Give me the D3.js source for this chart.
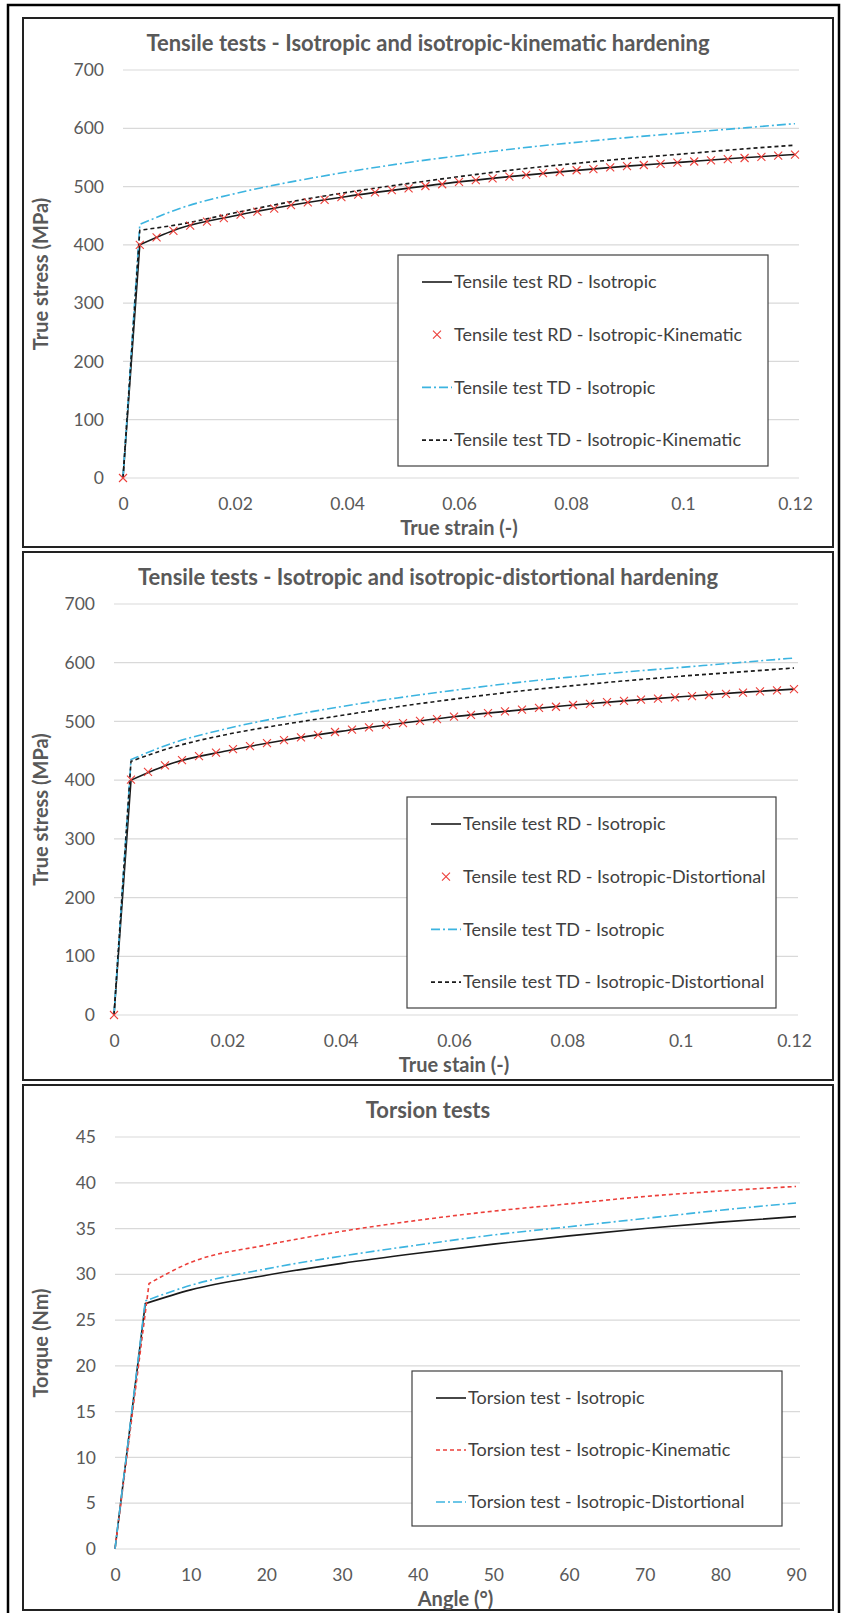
<!DOCTYPE html>
<html><head><meta charset="utf-8">
<script src="https://cdn.jsdelivr.net/npm/d3@7"></script>
<style>
body{margin:0;background:#fff}
svg{display:block}
text{font-family:Lato,"Open Sans","DejaVu Sans",sans-serif}
</style>
</head><body>
<svg id="c" width="841" height="1613"></svg>
<script>
// ---------- DATA ----------
const titles = [
  "Tensile tests - Isotropic and isotropic-kinematic hardening",
  "Tensile tests - Isotropic and isotropic-distortional hardening",
  "Torsion tests"
];
const xTitles = ["True strain (-)", "True stain (-)", "Angle (°)"];
const yTitles = ["True stress (MPa)", "True stress (MPa)", "Torque (Nm)"];

const strainTicks = [0, 0.02, 0.04, 0.06, 0.08, 0.1, 0.12];
const stressTicks = [0, 100, 200, 300, 400, 500, 600, 700];
const angleTicks = [0, 10, 20, 30, 40, 50, 60, 70, 80, 90];
const torqueTicks = [0, 5, 10, 15, 20, 25, 30, 35, 40, 45];

// tensile curves (strain, MPa)
const strainGrid = [0, 0.003, 0.01, 0.02, 0.03, 0.04, 0.05, 0.06, 0.07, 0.08, 0.09, 0.10, 0.11, 0.12];
const rdIsotropic = [0, 400, 428, 450, 468, 483, 496, 508, 518, 527, 535, 542, 549, 555];
const tdIsotropic = [0, 435, 462, 488, 508, 525, 540, 553, 565, 575, 584, 592, 600, 608];
const tdIsoKinematic = [0, 425, 435, 455, 474, 490, 504, 517, 529, 539, 548, 556, 564, 571];
const tdIsoDistortional = [0, 432, 455, 478, 495, 510, 525, 538, 550, 560, 569, 577, 584, 591];

// marker series (red crosses)
const rdKinStrain = [0, 0.003, 0.006, 0.009, 0.012, 0.015, 0.018, 0.021, 0.024, 0.027, 0.030, 0.033, 0.036, 0.039, 0.042, 0.045, 0.048, 0.051, 0.054, 0.057, 0.060, 0.063, 0.066, 0.069, 0.072, 0.075, 0.078, 0.081, 0.084, 0.087, 0.090, 0.093, 0.096, 0.099, 0.102, 0.105, 0.108, 0.111, 0.114, 0.117, 0.120];
const rdKinStress = [0, 400, 413, 424, 433, 440, 446, 452, 457, 462, 468, 473, 477, 482, 486, 490, 494, 497, 501, 504, 508, 511, 514, 517, 520, 523, 525, 528, 530, 533, 535, 537, 539, 541, 543, 545, 547, 549, 551, 553, 555];
const rdDistStrain = [0, 0.003, 0.006, 0.009, 0.012, 0.015, 0.018, 0.021, 0.024, 0.027, 0.030, 0.033, 0.036, 0.039, 0.042, 0.045, 0.048, 0.051, 0.054, 0.057, 0.060, 0.063, 0.066, 0.069, 0.072, 0.075, 0.078, 0.081, 0.084, 0.087, 0.090, 0.093, 0.096, 0.099, 0.102, 0.105, 0.108, 0.111, 0.114, 0.117, 0.120];
const rdDistStress = [0, 401, 414, 425, 434, 441, 447, 453, 458, 463, 468, 473, 477, 482, 486, 490, 494, 497, 501, 504, 508, 511, 514, 517, 520, 523, 525, 528, 530, 533, 535, 537, 539, 541, 543, 545, 547, 549, 551, 553, 555];

// torsion curves (degrees, Nm)
const angleGrid = [0, 4, 10, 20, 30, 40, 50, 60, 70, 80, 90];
const angleGridKin = [0, 4.5, 10, 20, 30, 40, 50, 60, 70, 80, 90];
const torsionIsotropic = [0, 26.8, 28.3, 29.9, 31.2, 32.3, 33.3, 34.2, 35.0, 35.7, 36.3];
const torsionKinematic = [0, 29.0, 31.3, 33.2, 34.7, 35.9, 36.9, 37.7, 38.5, 39.1, 39.6];
const torsionDistortional = [0, 27.1, 28.8, 30.6, 32.0, 33.2, 34.3, 35.2, 36.1, 37.0, 37.8];

const legend1 = ["Tensile test RD - Isotropic", "Tensile test RD - Isotropic-Kinematic", "Tensile test TD - Isotropic", "Tensile test TD - Isotropic-Kinematic"];
const legend2 = ["Tensile test RD - Isotropic", "Tensile test RD - Isotropic-Distortional", "Tensile test TD - Isotropic", "Tensile test TD - Isotropic-Distortional"];
const legend3 = ["Torsion test - Isotropic", "Torsion test - Isotropic-Kinematic", "Torsion test - Isotropic-Distortional"];

// ---------- STYLES ----------
const BLACK = "#1a1a1a", RED = "#ec3f3a", CYAN = "#3cb4e0";
const styles = {
  solid: {stroke: BLACK, dash: null},
  cross: {stroke: RED, marker: true},
  dashdot: {stroke: CYAN, dash: "9,3,2,3"},
  dashed: {stroke: BLACK, dash: "4,3"},
  reddash: {stroke: RED, dash: "4,3"}
};

const svg = d3.select("#c");
svg.append("rect").attr("x", 8).attr("y", 5).attr("width", 831).attr("height", 1612)
  .attr("fill", "none").attr("stroke", "#000").attr("stroke-width", 2.5);

const zip = (xs, ys) => xs.map((x, i) => [x, ys[i]]);

const panels = [
  {top: 18, bottom: 547, px0: 123, px1: 795, pyTop: 70, pyBot: 478,
   xDom: [0, 0.12], yDom: [0, 700], xTicks: strainTicks, yTicks: stressTicks,
   fmt: d => d3.format("~g")(d),
   series: [
     {data: zip(strainGrid, rdIsotropic), st: "solid"},
     {data: zip(strainGrid, tdIsotropic), st: "dashdot"},
     {data: zip(strainGrid, tdIsoKinematic), st: "dashed"},
     {data: zip(rdKinStrain, rdKinStress), st: "cross"}
   ],
   legend: {x: 398, y: 255, w: 370, h: 211, first: 282, step: 52.7, items: legend1, st: ["solid", "cross", "dashdot", "dashed"]}},
  {top: 552, bottom: 1080, px0: 114, px1: 794, pyTop: 604, pyBot: 1015,
   xDom: [0, 0.12], yDom: [0, 700], xTicks: strainTicks, yTicks: stressTicks,
   fmt: d => d3.format("~g")(d),
   series: [
     {data: zip(strainGrid, rdIsotropic), st: "solid"},
     {data: zip(strainGrid, tdIsotropic), st: "dashdot"},
     {data: zip(strainGrid, tdIsoDistortional), st: "dashed"},
     {data: zip(rdDistStrain, rdDistStress), st: "cross"}
   ],
   legend: {x: 407, y: 797, w: 369, h: 211, first: 824, step: 52.7, items: legend2, st: ["solid", "cross", "dashdot", "dashed"]}},
  {top: 1085, bottom: 1610, px0: 115, px1: 796, pyTop: 1137, pyBot: 1549,
   xDom: [0, 90], yDom: [0, 45], xTicks: angleTicks, yTicks: torqueTicks,
   fmt: d => String(d),
   series: [
     {data: zip(angleGrid, torsionIsotropic), st: "solid"},
     {data: zip(angleGridKin, torsionKinematic), st: "reddash"},
     {data: zip(angleGrid, torsionDistortional), st: "dashdot"}
   ],
   legend: {x: 412, y: 1371, w: 370, h: 155, first: 1398, step: 52, items: legend3, st: ["solid", "reddash", "dashdot"]}}
];

const crossPath = (cx, cy, r) => `M${cx - r},${cy - r}L${cx + r},${cy + r}M${cx - r},${cy + r}L${cx + r},${cy - r}`;

panels.forEach((p, i) => {
  const g = svg.append("g");
  const midPanel = 23 + 810 / 2;
  g.append("rect").attr("x", 23).attr("y", p.top).attr("width", 810).attr("height", p.bottom - p.top)
    .attr("fill", "#fff").attr("stroke", "#222").attr("stroke-width", 2);

  const x = d3.scaleLinear().domain(p.xDom).range([p.px0, p.px1]);
  const y = d3.scaleLinear().domain(p.yDom).range([p.pyBot, p.pyTop]);

  g.append("g").selectAll("line").data(p.yTicks).join("line")
    .attr("x1", p.px0).attr("x2", p.px1 + 4)
    .attr("y1", d => y(d)).attr("y2", d => y(d))
    .attr("stroke", "#d9d9d9").attr("stroke-width", 1.2);

  const ya = g.append("g").attr("transform", `translate(${p.px0},0)`)
    .call(d3.axisLeft(y).tickValues(p.yTicks).tickSize(0).tickPadding(19).tickFormat(p.fmt));
  ya.select(".domain").remove();
  ya.selectAll("text").attr("fill", "#595959").attr("font-size", 17.5);

  const xa = g.append("g").attr("transform", `translate(0,${p.pyBot})`)
    .call(d3.axisBottom(x).tickValues(p.xTicks).tickSize(0).tickPadding(20).tickFormat(p.fmt));
  xa.select(".domain").remove();
  xa.selectAll("text").attr("fill", "#595959").attr("font-size", 17.5);

  g.append("text").attr("x", midPanel).attr("y", p.top + 33)
    .attr("text-anchor", "middle").attr("font-size", 22).attr("font-weight", "bold")
    .attr("fill", "#595959").text(titles[i]);
  g.append("text").attr("x", (p.px0 + p.px1) / 2).attr("y", p.pyBot + 57)
    .attr("text-anchor", "middle").attr("font-size", 20).attr("font-weight", "bold")
    .attr("fill", "#595959").text(xTitles[i]);
  g.append("text").attr("transform", `translate(${41},${(p.pyTop + p.pyBot) / 2}) rotate(-90)`)
    .attr("text-anchor", "middle").attr("dy", "0.35em").attr("font-size", 20).attr("font-weight", "bold")
    .attr("fill", "#595959").text(yTitles[i]);

  // elastic part straight, plastic part smooth
  const lineLin = d3.line().x(d => x(d[0])).y(d => y(d[1]));
  const lineSmooth = d3.line().x(d => x(d[0])).y(d => y(d[1])).curve(d3.curveMonotoneX);
  const pathD = data => lineLin(data.slice(0, 2)) + lineSmooth(data.slice(1)).replace(/^M/, "L");

  p.series.forEach(s => {
    const st = styles[s.st];
    if (st.marker) {
      g.append("g").selectAll("path").data(s.data).join("path")
        .attr("d", d => crossPath(x(d[0]), y(d[1]), 4))
        .attr("stroke", st.stroke).attr("stroke-width", 1.1).attr("fill", "none");
    } else {
      g.append("path").attr("d", pathD(s.data))
        .attr("fill", "none").attr("stroke", st.stroke).attr("stroke-width", 1.6)
        .attr("stroke-dasharray", st.dash);
    }
  });

  const L = p.legend;
  g.append("rect").attr("x", L.x).attr("y", L.y).attr("width", L.w).attr("height", L.h)
    .attr("fill", "#fff").attr("stroke", "#404040").attr("stroke-width", 1.2);
  L.items.forEach((t, k) => {
    const cy = L.first + k * L.step;
    const st = styles[L.st[k]];
    const lx0 = L.x + 24, lx1 = L.x + 54;
    if (st.marker) {
      g.append("path").attr("d", crossPath(L.x + 39, cy, 4))
        .attr("stroke", st.stroke).attr("stroke-width", 1.1);
    } else {
      g.append("line").attr("x1", lx0).attr("x2", lx1).attr("y1", cy).attr("y2", cy)
        .attr("stroke", st.stroke).attr("stroke-width", 1.6).attr("stroke-dasharray", st.dash);
    }
    g.append("text").attr("x", lx1 + 2).attr("y", cy).attr("dy", "0.35em")
      .attr("font-size", 18).attr("fill", "#404040").text(t);
  });
});
</script>
</body></html>
